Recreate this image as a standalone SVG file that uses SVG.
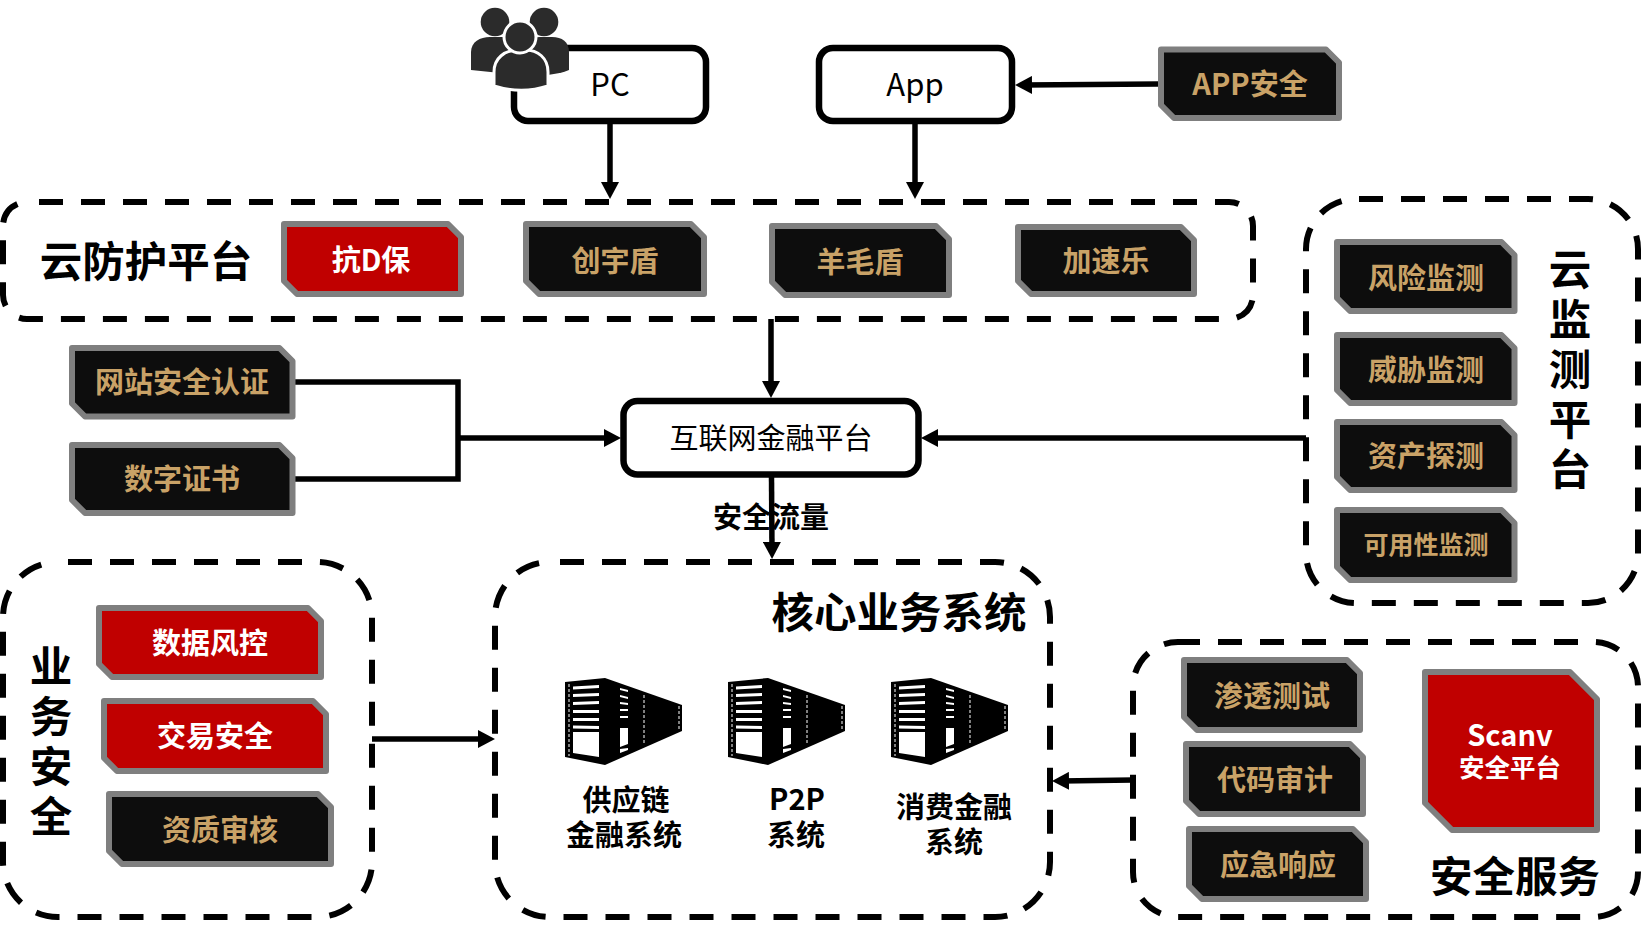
<svg xmlns="http://www.w3.org/2000/svg" width="1641" height="927" viewBox="0 0 1641 927">
<style>
text{font-family:"Noto Sans CJK SC","Noto Sans",sans-serif;text-anchor:middle;dominant-baseline:central}
.zone{fill:none;stroke:#000;stroke-width:6;stroke-dasharray:24 18}
.box{fill:#fff;stroke:#000;stroke-width:6.500}
.tag{stroke:#7f7f7f;stroke-width:6;stroke-linejoin:round}
.dark{fill:#0d0d0d}
.red{fill:#c00000}
.gold{fill:#c9a267;font-size:29px;font-weight:700}
.wh{fill:#fff;font-size:29px;font-weight:700}
.h{font-size:42.500px;font-weight:700;fill:#000}
.v{writing-mode:vertical-rl;letter-spacing:7.500px}
.l{font-size:29px;font-weight:700;fill:#000}
.c{fill:none;stroke:#000;stroke-width:5.500}
.person{fill:#2b2b2b}
</style>
<defs>
<marker id="ah" markerUnits="userSpaceOnUse" markerWidth="18" markerHeight="18" refX="9" refY="9" orient="auto"><path d="M0 0L17 9L0 18Z" fill="#000"/></marker>
<g id="server">
<path d="M0 4L40 0L117 27V53L40 87L0 79Z" fill="#000"/>
<path d="M8 8.500L34 7V10L8 11.500ZM8 16L34 15V18L8 19ZM8 24L34 23V26L8 27ZM8 32L34 32V35L8 35ZM8 40L34 40V43L8 43ZM8 47.500L34 48V51L8 50.500ZM8 54H34V79L8 75Z" fill="#fff"/>
<path d="M55 10L63 12V14L55 12ZM55 17L63 19V21L55 19ZM55 24L63 25V27L55 26ZM55 31L63 31V33L55 33ZM55 38L63 38V40L55 40ZM55 50H63V66L55 69ZM55 71L63 70V72L55 75Z" fill="#fff"/>
<path d="M4 6V78M79 17V65M114 28V52" stroke="#fff" stroke-width="1" stroke-dasharray="3 2" fill="none"/>
</g>
</defs>

<g id="connectors">
<path class="c" marker-end="url(#ah)" d="M610 123V191"/>
<path class="c" marker-end="url(#ah)" d="M915 123V191"/>
<path class="c" marker-end="url(#ah)" d="M1158 84L1023 85"/>
<path class="c" marker-end="url(#ah)" d="M771 319V390"/>
<path class="c" d="M295 382H458V479H295"/>
<path class="c" marker-end="url(#ah)" d="M458 438H613"/>
<path class="c" marker-end="url(#ah)" d="M1306 438H929"/>
<path class="c" marker-end="url(#ah)" d="M771.500 477L772 551"/>
<path class="c" marker-end="url(#ah)" d="M372 739H487"/>
<path class="c" marker-end="url(#ah)" d="M1133 780L1060 781"/>
</g>

<g id="zone-cloud-protect">
<rect class="zone" x="3" y="202" width="1250" height="117" rx="24" stroke-dashoffset="30"/>
<text class="h" x="146" y="258">云防护平台</text>
</g>
<g id="zone-cloud-monitor">
<rect class="zone" x="1306" y="199" width="332" height="404" rx="50" stroke-dashoffset="39"/>
<text class="h v" x="1570" y="373">云监测平台</text>
</g>
<g id="zone-business">
<rect class="zone" x="3" y="562" width="369" height="355" rx="55" stroke-dashoffset="32"/>
<text class="h v" x="51" y="745">业务安全</text>
</g>
<g id="zone-core">
<rect class="zone" x="495" y="562" width="555" height="355" rx="55" stroke-dashoffset="32"/>
<text class="h" x="899" y="609">核心业务系统</text>
</g>
<g id="zone-service">
<rect class="zone" x="1133" y="642" width="505" height="275" rx="45" stroke-dashoffset="2"/>
<text class="h" x="1515" y="873">安全服务</text>
</g>

<g id="node-pc">
<rect class="box" x="514" y="48" width="192" height="73" rx="14"/>
<text x="610" y="82" font-size="31" fill="#000">PC</text>
</g>
<g id="icon-users">
<path class="person" d="M471 70V52C471 42 480 37 490 37H500C510 37 520 42 520 52V75Z"/>
<path class="person" d="M520 75V52C520 42 530 37 540 37H552C562 37 569 42 569 52V70C555 76 535 76 520 75Z"/>
<circle class="person" cx="495" cy="22" r="14.300"/>
<circle class="person" cx="544" cy="22" r="14.300"/>
<path class="person" stroke="#fff" stroke-width="3" d="M494 86V72C494 58 505 50 518 50H525C538 50 548 58 548 72V86C530 92 510 91 494 86Z"/>
<circle class="person" stroke="#fff" stroke-width="3" cx="520" cy="37" r="16"/>
</g>
<g id="node-app">
<rect class="box" x="819" y="48" width="193" height="73" rx="14"/>
<text x="915" y="82" font-size="31" fill="#000">App</text>
</g>
<g id="node-app-security">
<path class="tag dark" d="M1161 49.500H1326L1339 62.500V118H1174L1161 105Z"/>
<text class="gold" x="1250" y="82">APP安全</text>
</g>
<g id="node-platform">
<rect class="box" x="623.500" y="401" width="295" height="73.500" rx="14"/>
<text x="771" y="436" font-size="29" fill="#000">互联网金融平台</text>
</g>
<text id="label-traffic" class="l" x="771" y="515">安全流量</text>

<g id="node-antid">
<path class="tag red" d="M284 224H448L461 237V294H297L284 281Z"/>
<text class="wh" x="371" y="258">抗D保</text>
</g>
<g id="node-chuangyu">
<path class="tag dark" d="M526 224H691L704 237V294H539L526 281Z"/>
<text class="gold" x="615" y="259">创宇盾</text>
</g>
<g id="node-yangmao">
<path class="tag dark" d="M772 226H936L949 239V295H785L772 282Z"/>
<text class="gold" x="860" y="260">羊毛盾</text>
</g>
<g id="node-jiasule">
<path class="tag dark" d="M1018 227H1181L1194 240V294H1031L1018 281Z"/>
<text class="gold" x="1106" y="259">加速乐</text>
</g>

<g id="node-risk">
<path class="tag dark" d="M1337 242H1501.500L1514.500 255V311H1350L1337 298Z"/>
<text class="gold" x="1426" y="276">风险监测</text>
</g>
<g id="node-threat">
<path class="tag dark" d="M1337 335H1501.500L1514.500 348V403H1350L1337 390Z"/>
<text class="gold" x="1426" y="368">威胁监测</text>
</g>
<g id="node-asset">
<path class="tag dark" d="M1337 422H1501.500L1514.500 435V490H1350L1337 477Z"/>
<text class="gold" x="1426" y="454">资产探测</text>
</g>
<g id="node-availability">
<path class="tag dark" d="M1337 510H1501.500L1514.500 523V580H1350L1337 567Z"/>
<text class="gold" x="1426" y="543" style="font-size:25px">可用性监测</text>
</g>

<g id="node-site-cert">
<path class="tag dark" d="M72 348H279.500L292.500 361V416.500H85L72 403.500Z"/>
<text class="gold" x="182" y="380">网站安全认证</text>
</g>
<g id="node-digital-cert">
<path class="tag dark" d="M72 445H279.500L292.500 458V513H85L72 500Z"/>
<text class="gold" x="182" y="477">数字证书</text>
</g>

<g id="node-risk-control">
<path class="tag red" d="M99 608H308L321 621V677H112L99 664Z"/>
<text class="wh" x="210" y="641">数据风控</text>
</g>
<g id="node-trade">
<path class="tag red" d="M104 701H313L326 714V771H117L104 758Z"/>
<text class="wh" x="215" y="734">交易安全</text>
</g>
<g id="node-qualify">
<path class="tag dark" d="M109 794H318L331 807V864H122L109 851Z"/>
<text class="gold" x="220" y="828">资质审核</text>
</g>

<g id="node-supply">
<use href="#server" x="565" y="678"/>
<text class="l"><tspan x="626" y="798">供应链</tspan><tspan x="624" y="833">金融系统</tspan></text>
</g>
<g id="node-p2p">
<use href="#server" x="728" y="678"/>
<text class="l"><tspan x="797" y="797">P2P</tspan><tspan x="796" y="833">系统</tspan></text>
</g>
<g id="node-consumer">
<use href="#server" x="891" y="678"/>
<text class="l"><tspan x="954" y="805">消费金融</tspan><tspan x="954" y="840">系统</tspan></text>
</g>

<g id="node-pentest">
<path class="tag dark" d="M1184 660H1347L1360 673V730H1197L1184 717Z"/>
<text class="gold" x="1272" y="694">渗透测试</text>
</g>
<g id="node-audit">
<path class="tag dark" d="M1186 744H1350L1363 757V814H1199L1186 801Z"/>
<text class="gold" x="1275" y="778">代码审计</text>
</g>
<g id="node-response">
<path class="tag dark" d="M1189 829H1353L1366 842V899H1202L1189 886Z"/>
<text class="gold" x="1278" y="863">应急响应</text>
</g>
<g id="node-scanv">
<path class="tag red" d="M1425 672H1570L1597 699V830H1452L1425 803Z"/>
<text class="wh"><tspan x="1510" y="733">Scanv</tspan><tspan x="1510" y="765" style="font-size:25.500px">安全平台</tspan></text>
</g>
</svg>
